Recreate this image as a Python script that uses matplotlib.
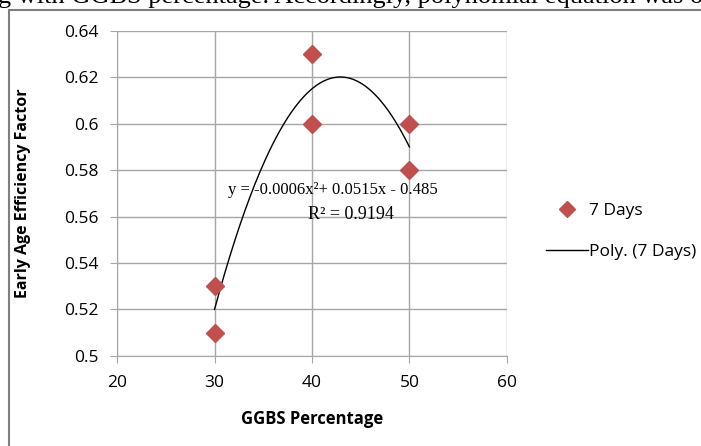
import numpy as np
import matplotlib.pyplot as plt
from matplotlib.patches import Rectangle
from matplotlib.lines import Line2D

# ---- Data ----
ggbs = [30, 30, 40, 40, 50, 50]
eff_7days = [0.53, 0.51, 0.63, 0.60, 0.60, 0.58]
x_ticks = [20, 30, 40, 50, 60]
y_ticks = [0.5, 0.52, 0.54, 0.56, 0.58, 0.6, 0.62, 0.64]
y_tick_labels = ["0.5", "0.52", "0.54", "0.56", "0.58", "0.6", "0.62", "0.64"]
equation = "y = -0.0006x²+ 0.0515x - 0.485"
r2_text = "R² = 0.9194"

red = "#C0504D"
grid_col = "#A6A6A6"
sans = ["Open Sans", "DejaVu Sans"]
serif = ["Liberation Serif", "DejaVu Serif"]

fig = plt.figure(figsize=(7.01, 4.46), dpi=100)
ax = fig.add_axes([0.167, 0.202, 0.556, 0.729])

# ---- Scatter + poly trendline ----
ax.plot(ggbs, eff_7days, linestyle="none", marker="D", markersize=9.5,
        color=red, zorder=3)
coef = np.polyfit(ggbs, eff_7days, 2)
xs = np.linspace(min(ggbs), max(ggbs), 200)
ax.plot(xs, np.polyval(coef, xs), color="black", linewidth=1.0, zorder=2)

ax.set_xlim(20, 60)
ax.set_ylim(0.5, 0.64)
ax.set_xticks(x_ticks)
ax.set_yticks(y_ticks)
ax.set_yticklabels(y_tick_labels)
ax.grid(True, color=grid_col, linewidth=1.0)
ax.set_axisbelow(True)
for s in ["top", "right"]:
    ax.spines[s].set_visible(False)
for s in ["left", "bottom"]:
    ax.spines[s].set_color(grid_col)
ax.tick_params(colors=grid_col, length=5, labelcolor="#000000", labelsize=12.5)
ax.tick_params(axis="x", pad=9)
ax.tick_params(axis="y", pad=8)
for lbl in ax.get_xticklabels() + ax.get_yticklabels():
    lbl.set_family(sans)

ax.set_xlabel("GGBS Percentage", fontsize=12, fontweight="bold", family=sans)
ax.set_ylabel("Early Age Efficiency Factor", fontsize=11.5, fontweight="bold",
              family=sans)
ax.xaxis.set_label_coords(0.5, -0.165)
ax.yaxis.set_label_coords(-0.222, 0.5)

# equation label
ax.text(0.285, 0.51, equation, transform=ax.transAxes, fontsize=12,
        family=serif, ha="left", va="center")
ax.text(0.49, 0.434, r2_text, transform=ax.transAxes, fontsize=13,
        family=serif, ha="left", va="center")

# ---- Legend ----
handles = [Line2D([], [], linestyle="none", marker="D", markersize=8, color=red),
           Line2D([], [], color="black", linewidth=1.0)]
fig.legend(handles, ["7 Days", "Poly. (7 Days)"], loc="center left",
           bbox_to_anchor=(0.779, 0.481), frameon=False,
           prop={"family": sans, "size": 12.5}, handlelength=2.4,
           labelspacing=1.45, handletextpad=0.1, borderpad=0, borderaxespad=0)

# ---- chart frame and surrounding document text ----
fig.patches.append(Rectangle((9 / 701, -0.05), 1.1, 1 - 10 / 446 + 0.05,
                             transform=fig.transFigure, fill=False,
                             edgecolor="#7F7F7F", linewidth=1.5))
fig.text(-0.003, 1 - 3 / 446, "g with GGBS percentage. Accordingly, polynomial equation was o",
         family=serif, fontsize=19, ha="left", va="baseline")

fig.savefig("out.png", dpi=100)
